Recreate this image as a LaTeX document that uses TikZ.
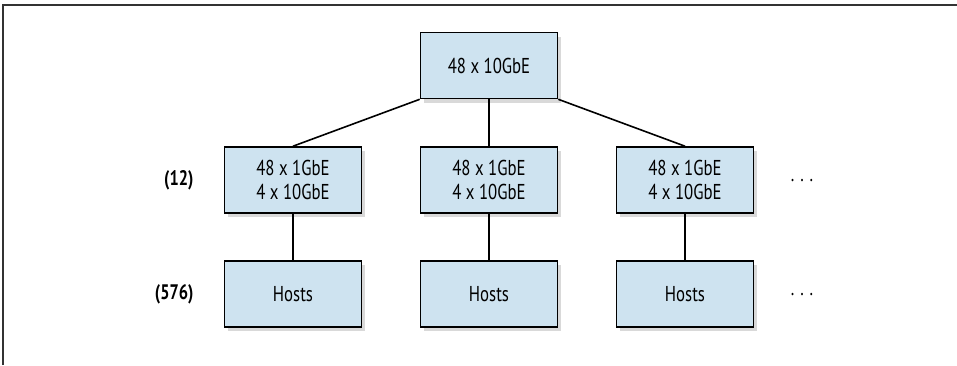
\documentclass[tikz,border=0pt]{standalone}
\usepackage{fontspec}
\setmainfont[FakeStretch=0.78]{PT Sans}
\usetikzlibrary{shadows}
\definecolor{boxblue}{HTML}{CEE3F0}
\definecolor{framegray}{HTML}{333333}

\begin{document}
\begin{tikzpicture}[x=1pt,y=-1pt,
		switch/.style={draw=black,line width=1.6pt,fill=boxblue,minimum width=137pt,minimum height=66pt,align=center,
			font=\fontsize{21.5}{24}\selectfont,drop shadow={shadow xshift=3pt,shadow yshift=-4pt,opacity=0.3}},
		link/.style={line width=1.6pt,black},
		level/.style={anchor=east,font=\bfseries\fontsize{21}{24}\selectfont},
		more/.style={font=\fontsize{21}{24}\selectfont}]
		\useasboundingbox (0,0) rectangle (957,365);
		\draw[framegray,line width=1.5pt] (3,365)--(3,5)--(957,5);
		% core switch
		\node[switch] (core) at (489,65.5) {48 x 10GbE};
		% top of rack switches
		\node[switch] (tor1) at (293,180) {48 x 1GbE\\4 x 10GbE};
		\node[switch] (tor2) at (489,180) {48 x 1GbE\\4 x 10GbE};
		\node[switch] (tor3) at (685,180) {48 x 1GbE\\4 x 10GbE};
		% hosts
		\node[switch] (hosts1) at (293,294) {Hosts};
		\node[switch] (hosts2) at (489,294) {Hosts};
		\node[switch] (hosts3) at (685,294) {Hosts};
		\node[level] (count12) at (197,180) {(12)};
		\node[level] (count576) at (197,294) {(576)};
		\node[more] (moretor) at (802,181) {. . .};
		\node[more] (morehosts) at (802,295) {. . .};
		\draw[link] (core.south west)--(tor1.north);
		\draw[link] (core.south)--(tor2.north);
		\draw[link] (core.south east)--(tor3.north);
		\draw[link] (tor1.south)--(hosts1.north);
		\draw[link] (tor2.south)--(hosts2.north);
		\draw[link] (tor3.south)--(hosts3.north);
	\end{tikzpicture}
\end{document}
